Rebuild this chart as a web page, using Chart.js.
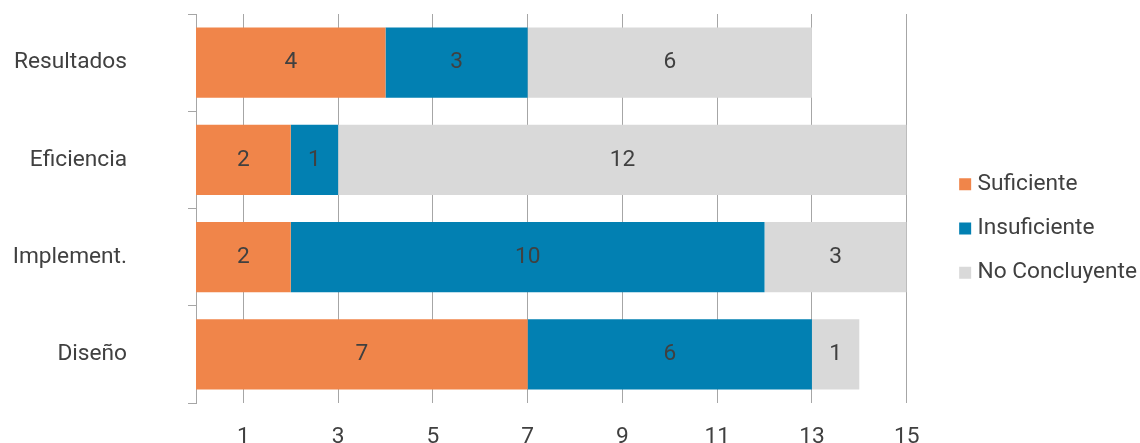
<!DOCTYPE html>
<html>
<head>
<meta charset="utf-8">
<script src="https://cdn.jsdelivr.net/npm/chart.js@4.4.1/dist/chart.umd.min.js"></script>
<style>
  html, body { margin: 0; padding: 0; background: #fff; }
  #wrap { width: 1140px; height: 443px; }
</style>
</head>
<body>
<div id="wrap"><canvas id="evalChart"></canvas></div>
<script>
// Data
const categories = ['Resultados', 'Eficiencia', 'Implement.', 'Diseño'];
const suficiente = [4, 2, 2, 7];
const insuficiente = [3, 1, 10, 6];
const noConcluyente = [6, 12, 3, 1];
const xTicks = [1, 3, 5, 7, 9, 11, 13, 15];

const textColor = '#404040';
const gridColor = '#a6a6a6';
const fontSize = 22.7;
const LEGEND_GAP = 26;

// values written in the middle of each segment
const barValues = {
    id: 'barValues',
    afterDatasetsDraw(chart) {
        const ctx = chart.ctx;
        ctx.save();
        ctx.fillStyle = textColor;
        ctx.font = fontSize + 'px Roboto';
        ctx.textAlign = 'center';
        ctx.textBaseline = 'middle';
        chart.data.datasets.forEach((ds, i) => {
            chart.getDatasetMeta(i).data.forEach((bar, j) => {
                const p = bar.getCenterPoint();
                ctx.fillText(String(ds.data[j]), p.x, p.y);
            });
        });
        ctx.restore();
    }
};

// leave some room between plot and legend, keep the legend flush right
// (chart.js adds 10px of its own to the width of a vertical legend)
const legendGap = {
    id: 'legendGap',
    beforeInit(chart) {
        const fit = chart.legend.fit;
        chart.legend.fit = function () {
            fit.call(this);
            this.width += LEGEND_GAP;
        };
    },
    afterLayout(chart) {
        chart.legend.left += LEGEND_GAP + 10;
    }
};

document.addEventListener('DOMContentLoaded', function() {
    const ctx = document.getElementById('evalChart').getContext('2d');
    new Chart(ctx, {
        type: 'bar',
        data: {
            labels: categories,
            datasets: [
                { label: 'Suficiente', data: suficiente, backgroundColor: '#f0854a' },
                { label: 'Insuficiente', data: insuficiente, backgroundColor: '#0280b2' },
                { label: 'No Concluyente', data: noConcluyente, backgroundColor: '#d9d9d9' }
            ]
        },
        options: {
            indexAxis: 'y',
            responsive: true,
            maintainAspectRatio: false,
            animation: false,
            events: [],
            datasets: {
                bar: { barPercentage: 0.72, categoryPercentage: 1 }
            },
            layout: { padding: { top: 14, right: 3, bottom: 0, left: 0 } },
            plugins: {
                tooltip: { enabled: false },
                legend: {
                    position: 'right',
                    labels: {
                        usePointStyle: true,
                        pointStyle: 'rect',
                        boxWidth: 2,
                        boxHeight: 12,
                        padding: 21.5,
                        color: textColor,
                        font: { family: 'Roboto', size: fontSize }
                    }
                }
            },
            scales: {
                x: {
                    stacked: true,
                    min: 0,
                    max: 15,
                    afterBuildTicks: (scale) => {
                        scale.ticks = xTicks.map(v => ({ value: v }));
                    },
                    afterFit: (scale) => { scale.height = 40; },
                    grid: { color: gridColor, drawTicks: false },
                    border: { display: false },
                    ticks: {
                        color: textColor,
                        padding: 21,
                        font: { family: 'Roboto', size: fontSize }
                    }
                },
                y: {
                    stacked: true,
                    afterFit: (scale) => {
                        scale.width = 196;
                        scale.paddingTop = 0;
                        scale.paddingBottom = 0;
                    },
                    grid: { drawOnChartArea: false, color: gridColor, tickLength: 8 },
                    border: { color: gridColor },
                    ticks: {
                        color: textColor,
                        padding: 61,
                        font: { family: 'Roboto', size: fontSize }
                    }
                }
            }
        },
        plugins: [barValues, legendGap]
    });
});
</script>
</body>
</html>
